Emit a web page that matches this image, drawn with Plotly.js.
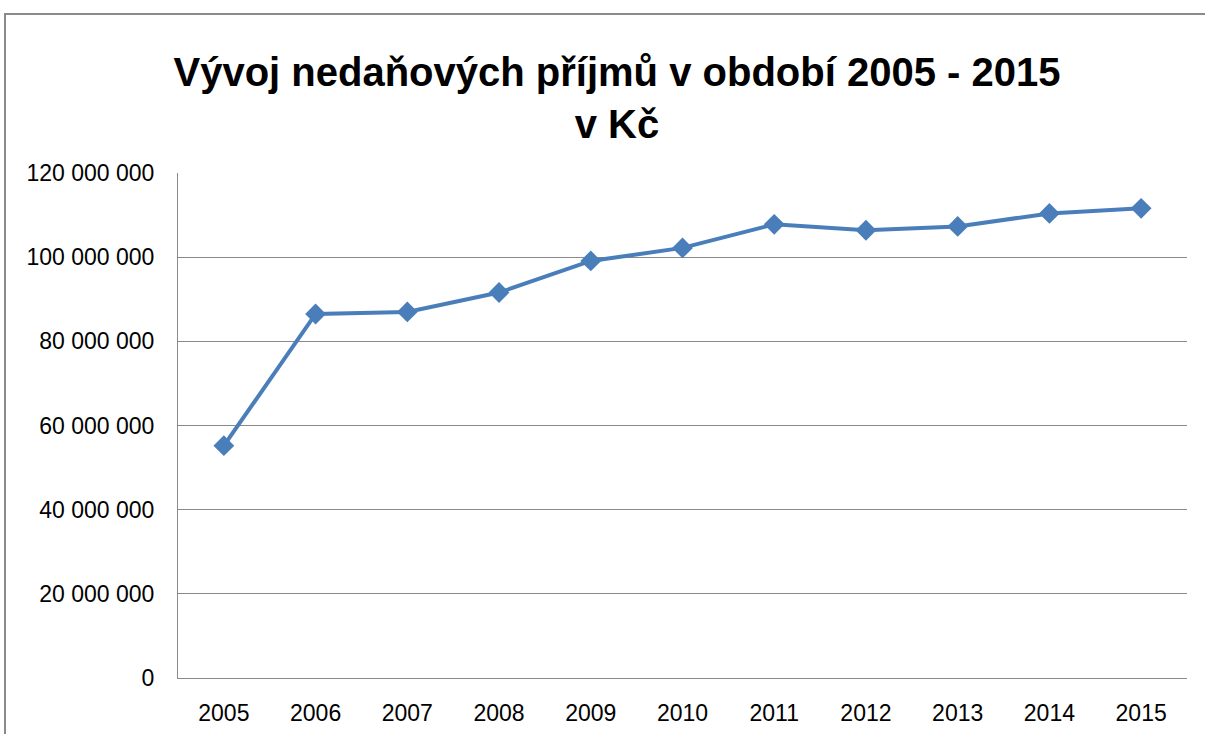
<!DOCTYPE html>
<html>
<head>
<meta charset="utf-8">
<script src="https://cdn.plot.ly/plotly-3.0.1.min.js"></script>
<style>
html,body{margin:0;padding:0;background:#fff;overflow:hidden;}
#frame{position:absolute;left:4px;top:13px;width:1260px;height:800px;border:2px solid #8a8a8a;box-sizing:border-box;}
#chart{position:absolute;left:0;top:0;width:1205px;height:734px;}
</style>
</head>
<body>
<div id="frame"></div>
<div id="chart"></div>
<script>
const years = ['2005','2006','2007','2008','2009','2010','2011','2012','2013','2014','2015'];
const revenues = [55200000, 86500000, 87000000, 91600000, 99100000, 102200000, 107800000, 106400000, 107300000, 110400000, 111600000];
const yTicks = [0, 20000000, 40000000, 60000000, 80000000, 100000000, 120000000];

const trace = {
  x: years,
  y: revenues,
  type: 'scatter',
  mode: 'lines+markers',
  line: {color: '#4a7ebb', width: 4},
  marker: {symbol: 'diamond', size: 16, color: '#4a7ebb'},
  hoverinfo: 'x+y'
};

const tickFont = {family: 'Liberation Sans, Arial, sans-serif', size: 23, color: '#000'};

const layout = {
  width: 1205,
  height: 734,
  margin: {l: 178, r: 18, t: 173, b: 56},
  paper_bgcolor: 'rgba(0,0,0,0)',
  plot_bgcolor: 'rgba(0,0,0,0)',
  separators: ', ',
  showlegend: false,
  title: {
    text: 'Vývoj nedaňových příjmů v období 2005 - 2015<br>v Kč',
    font: {family: 'Liberation Sans, Arial, sans-serif', size: 40, color: '#000', weight: 'bold'},
    xref: 'container', x: 0.512, xanchor: 'center',
    yref: 'container', y: 1 - 86/734, yanchor: 'top'
  },
  xaxis: {
    type: 'category',
    range: [-0.5, 10.5],
    showgrid: false,
    showline: true, linecolor: '#8a8a8a', linewidth: 1,
    ticks: '', tickfont: tickFont,
    ticklabelstandoff: 14,
    fixedrange: true
  },
  yaxis: {
    range: [0, 120000000],
    tickvals: yTicks,
    tickformat: ',d',
    showgrid: true, gridcolor: '#8a8a8a', gridwidth: 1,
    zeroline: false,
    showline: true, linecolor: '#8a8a8a', linewidth: 1,
    ticks: '', tickfont: tickFont,
    ticklabelstandoff: 18,
    fixedrange: true
  }
};

Plotly.newPlot('chart', [trace], layout, {displayModeBar: false, staticPlot: true});
</script>
</body>
</html>
